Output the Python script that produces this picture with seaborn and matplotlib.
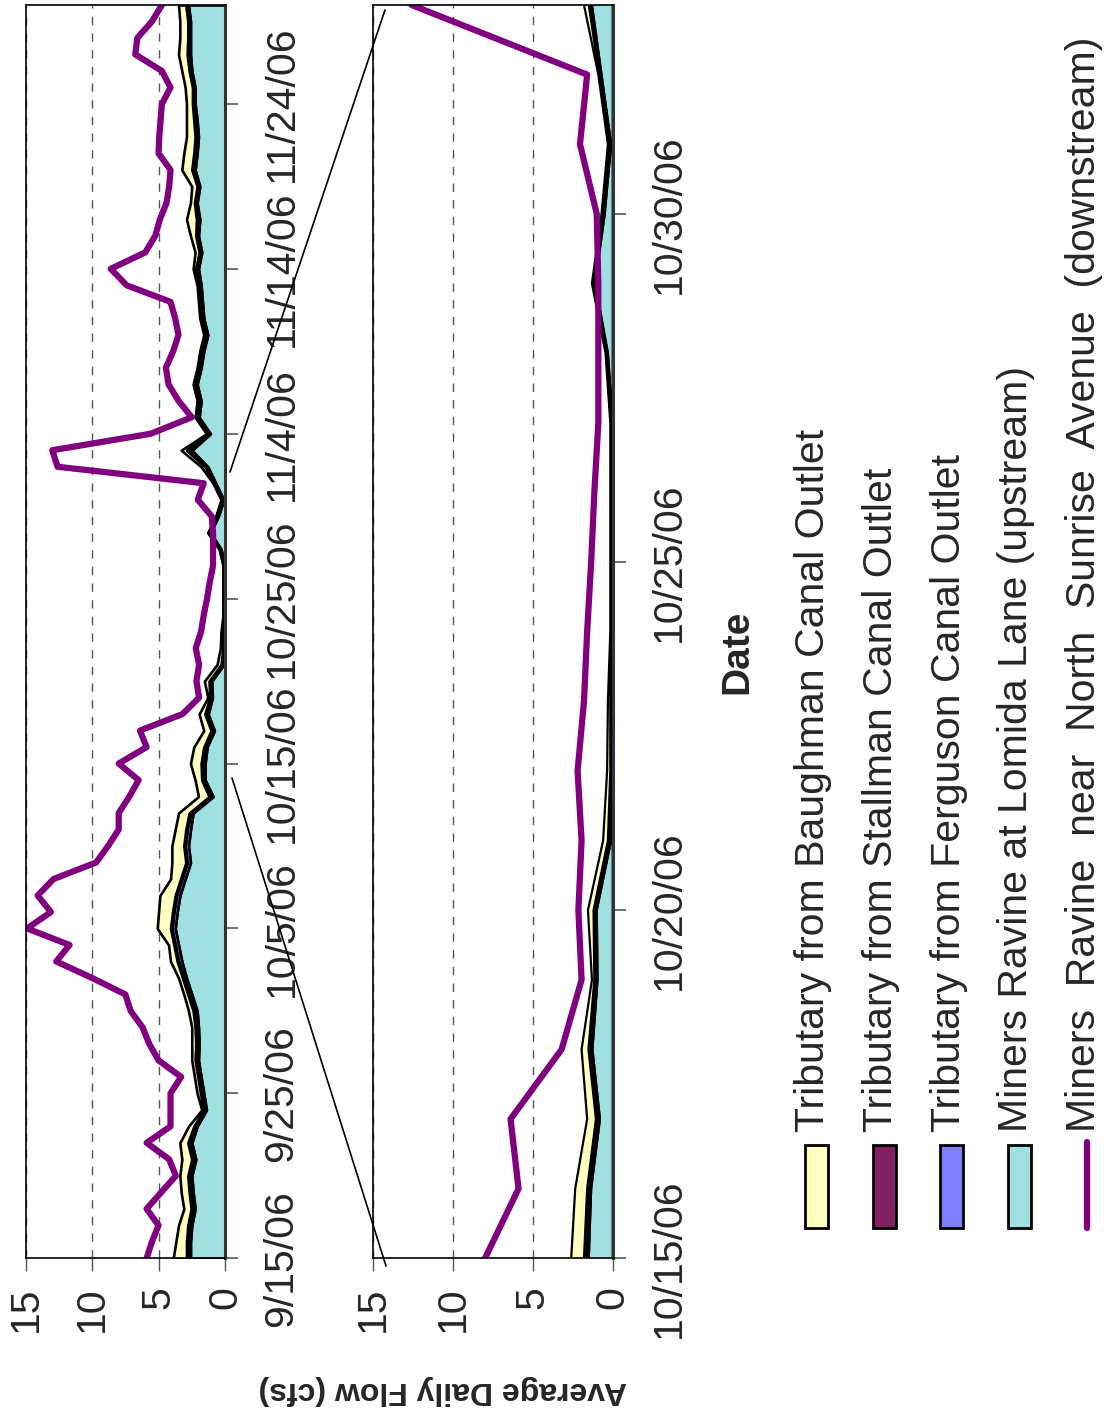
import numpy as np
import pandas as pd
import matplotlib
matplotlib.use("Agg")
import matplotlib.pyplot as plt
import matplotlib.dates as mdates
from matplotlib.lines import Line2D
from matplotlib.patches import Rectangle
import seaborn as sns

# Daily flows (cfs), 9/15/06 - 11/30/06
dates = pd.date_range("2006-09-15", "2006-11-30", freq="D")

upstream = [2.6, 2.6, 2.5, 2.25, 2.4, 2.5, 2.2, 2.5, 2.1, 1.4,
            1.6, 1.8, 2.0, 1.95, 2.0, 2.1, 2.5, 2.9, 3.25, 3.5,
            3.75, 3.6, 3.4, 3.0, 2.6, 2.75, 2.6, 2.4, 0.9, 1.5,
            1.5, 1.35, 0.8, 1.27, 0.95, 1.0, 0.1, 0.0, 0.0, 0.0,
            0.0, 0.0, 0.0, 0.3, 1.1, 0.5, 0.1, 0.7, 1.3, 2.5,
            1.1, 1.95, 1.8, 2.1, 1.8, 1.6, 1.3, 1.6, 1.7, 1.8,
            2.0, 1.75, 2.0, 1.9, 2.1, 1.9, 2.25, 2.1, 2.0, 2.1,
            2.25, 2.25, 2.5, 2.6, 2.6, 2.6, 2.75]
ferguson = [0.2, 0.2, 0.2, 0.2, 0.2, 0.2, 0.2, 0.2, 0.15, 0.1,
            0.15, 0.15, 0.15, 0.15, 0.15, 0.2, 0.2, 0.2, 0.25, 0.25,
            0.25, 0.25, 0.25, 0.25, 0.25, 0.25, 0.25, 0.2, 0.2, 0.15,
            0.15, 0.1, 0.1, 0.1, 0.1, 0.1, 0.1, 0.05, 0.05, 0.05,
            0.05, 0.05, 0.05, 0.05, 0.05, 0.05, 0.05, 0.05, 0.1, 0.2,
            0.1, 0.1, 0.1, 0.1, 0.1, 0.1, 0.1, 0.1, 0.1, 0.1,
            0.1, 0.1, 0.1, 0.15, 0.1, 0.1, 0.15, 0.15, 0.15, 0.15,
            0.1, 0.1, 0.1, 0.15, 0.1, 0.1, 0.1]
stallman = [0.1, 0.1, 0.1, 0.1, 0.1, 0.1, 0.1, 0.1, 0.1, 0.1,
            0.1, 0.1, 0.1, 0.1, 0.1, 0.1, 0.1, 0.1, 0.1, 0.1,
            0.1, 0.1, 0.1, 0.1, 0.1, 0.1, 0.1, 0.1, 0.1, 0.1,
            0.15, 0.15, 0.15, 0.15, 0.1, 0.1, 0.1, 0.1, 0.1, 0.05,
            0.05, 0.05, 0.05, 0.05, 0.1, 0.1, 0.1, 0.1, 0.1, 0.2,
            0.1, 0.1, 0.1, 0.1, 0.1, 0.1, 0.1, 0.1, 0.1, 0.1,
            0.1, 0.1, 0.1, 0.1, 0.1, 0.1, 0.1, 0.1, 0.1, 0.1,
            0.1, 0.1, 0.1, 0.1, 0.1, 0.1, 0.1]
baughman = [1.0, 0.8, 0.7, 0.55, 0.6, 0.6, 0.75, 0.6, 0.4, 0.15,
            0.25, 0.25, 0.25, 0.3, 0.25, 0.35, 0.3, 0.3, 0.5, 0.4,
            1.0, 1.05, 1.15, 0.75, 1.05, 0.9, 0.8, 0.8, 0.8, 0.5,
            0.8, 0.75, 0.55, 0.43, 0.15, 0.35, 0.3, 0.2, 0.15, 0.05,
            0.05, 0.05, 0.05, 0.05, 0.05, 0.05, 0.05, 0.05, 0.3, 0.4,
            0.1, 0.1, 0.1, 0.1, 0.1, 0.1, 0.1, 0.1, 0.1, 0.1,
            0.2, 0.3, 0.4, 0.75, 0.3, 0.4, 0.75, 0.75, 0.65, 0.55,
            0.45, 0.55, 0.55, 0.65, 0.6, 0.6, 0.55]
downstream = [5.9, 5.5, 5.0, 5.9, 4.8, 3.7, 4.2, 5.9, 4.1, 4.1,
              4.1, 3.3, 5.0, 5.7, 6.2, 7.1, 7.5, 10.0, 12.7, 11.7,
              14.9, 13.1, 14.1, 12.9, 9.7, 8.8, 8.0, 8.0, 7.2, 6.5,
              8.0, 5.9, 6.4, 3.2, 1.95, 2.15, 1.95, 2.2, 1.8, 1.6,
              1.35, 1.15, 0.9, 0.9, 0.9, 1.0, 2.05, 1.6, 12.6, 13.0,
              5.6, 2.5, 3.5, 4.25, 4.45, 3.9, 3.5, 3.75, 4.1, 7.4,
              8.6, 6.0, 5.25, 4.9, 4.4, 4.2, 4.1, 5.0, 4.95, 4.85,
              4.75, 4.1, 4.75, 6.75, 6.6, 5.5, 4.75]

top_ticks = ["9/15/06", "9/25/06", "10/5/06", "10/15/06", "10/25/06",
             "11/4/06", "11/14/06", "11/24/06"]
zoom_ticks = ["10/15/06", "10/20/06", "10/25/06", "10/30/06"]
flow_ticks = [0, 5, 10, 15]

legend_names = ["Tributary from Baughman Canal Outlet",
                "Tributary from Stallman Canal Outlet",
                "Tributary from Ferguson Canal Outlet",
                "Miners Ravine at Lomida Lane (upstream)",
                "Miners  Ravine  near  North  Sunrise  Avenue  (downstream)"]
legend_colors = ["#FFFFC0", "#802060", "#8080FF", "#A0E0E0", "#800080"]

sns.set_style("white")
plt.rcParams["font.family"] = ["Liberation Sans", "DejaVu Sans"]

W, H = 1104, 1412
fig = plt.figure(figsize=(W / 100, H / 100), dpi=100)

t = mdates.date2num(dates)
up = np.array(upstream)
s1 = up + np.array(ferguson)
s2 = s1 + np.array(stallman)
s3 = s2 + np.array(baughman)


def draw_panel(ax, start, end, tick_labels, edge_lw):
    layers = [(0 * up, up, legend_colors[3]), (up, s1, legend_colors[2]),
              (s1, s2, legend_colors[1]), (s2, s3, legend_colors[0])]
    for lo, hi, c in layers:
        ax.fill_betweenx(t, lo, hi, facecolor=c, edgecolor="black", lw=edge_lw)
    sns.lineplot(x=downstream, y=t, orient="y", sort=False, estimator=None,
                 color="#800080", lw=4.5, ax=ax)
    ax.set_xlim(15, 0)
    ax.set_ylim(mdates.date2num(pd.Timestamp(start)), mdates.date2num(pd.Timestamp(end)))
    ax.set_xticks(flow_ticks)
    ax.set_xticklabels([str(v) for v in flow_ticks], rotation=90, fontsize=29.5)
    ax.set_yticks(mdates.date2num(pd.to_datetime(tick_labels)))
    ax.set_yticklabels(tick_labels, rotation=90, fontsize=29.5, va="center")
    ax.yaxis.tick_right()
    ax.tick_params(axis="x", direction="out", length=9, width=1, color="#555555",
                   pad=11, bottom=True)
    ax.tick_params(axis="y", direction="out", length=9, width=1.2, color="#555555",
                   pad=18, right=True, left=False)
    ax.set_xlabel("")
    ax.set_ylabel("")
    ax.xaxis.grid(True, ls=(0, (6, 6)), color="#555555", lw=1)
    ax.yaxis.grid(False)
    for side in ["top", "left", "bottom"]:
        ax.spines[side].set_color("black")
        ax.spines[side].set_linewidth(1.2)
    ax.spines["right"].set_color("#333333")
    ax.spines["right"].set_linewidth(2.2)


ax1 = fig.add_axes([25.7 / W, 1 - 1258.3 / H, 199.3 / W, 1253.3 / H])
draw_panel(ax1, "2006-09-15", "2006-11-30", top_ticks, 1.9)

ax2 = fig.add_axes([373.3 / W, 1 - 1258.3 / H, 239.4 / W, 1253.3 / H])
draw_panel(ax2, "2006-10-15", "2006-11-02", zoom_ticks, 1.6)

# zoom connector lines
for (x0, y0), (x1, y1) in [((230, 472), (385, 10)), ((232, 778), (386, 1266))]:
    fig.add_artist(Line2D([x0 / W, x1 / W], [1 - y0 / H, 1 - y1 / H],
                          transform=fig.transFigure, color="black", lw=1.2))

fig.text(443 / W, 1 - 1390 / H, "Average Daily Flow (cfs)", rotation=180,
         ha="center", va="center", fontsize=23, fontweight="bold")
fig.text(737 / W, 1 - 652 / H, "Date", rotation=90, ha="center", va="center",
         fontsize=28, fontweight="bold")

# legend, drawn rotated like the rest of the chart
for i, (name, c) in enumerate(zip(legend_names, legend_colors)):
    cx = 816.5 + i * 67.6
    if i < 4:
        fig.add_artist(Rectangle(((cx - 11.5) / W, 1 - 1228 / H), 23 / W, 83 / H,
                                 transform=fig.transFigure, facecolor=c,
                                 edgecolor="black", lw=2))
    else:
        fig.add_artist(Line2D([cx / W, cx / W], [1 - 1228 / H, 1 - 1142 / H],
                              transform=fig.transFigure, color=c, lw=4.5,
                              solid_capstyle="round"))
    fig.text((cx - 3) / W, 1 - 1132 / H, name, rotation=90, ha="center",
             va="bottom", fontsize=29.5)

fig.savefig("out.png", dpi=100, facecolor="white")
